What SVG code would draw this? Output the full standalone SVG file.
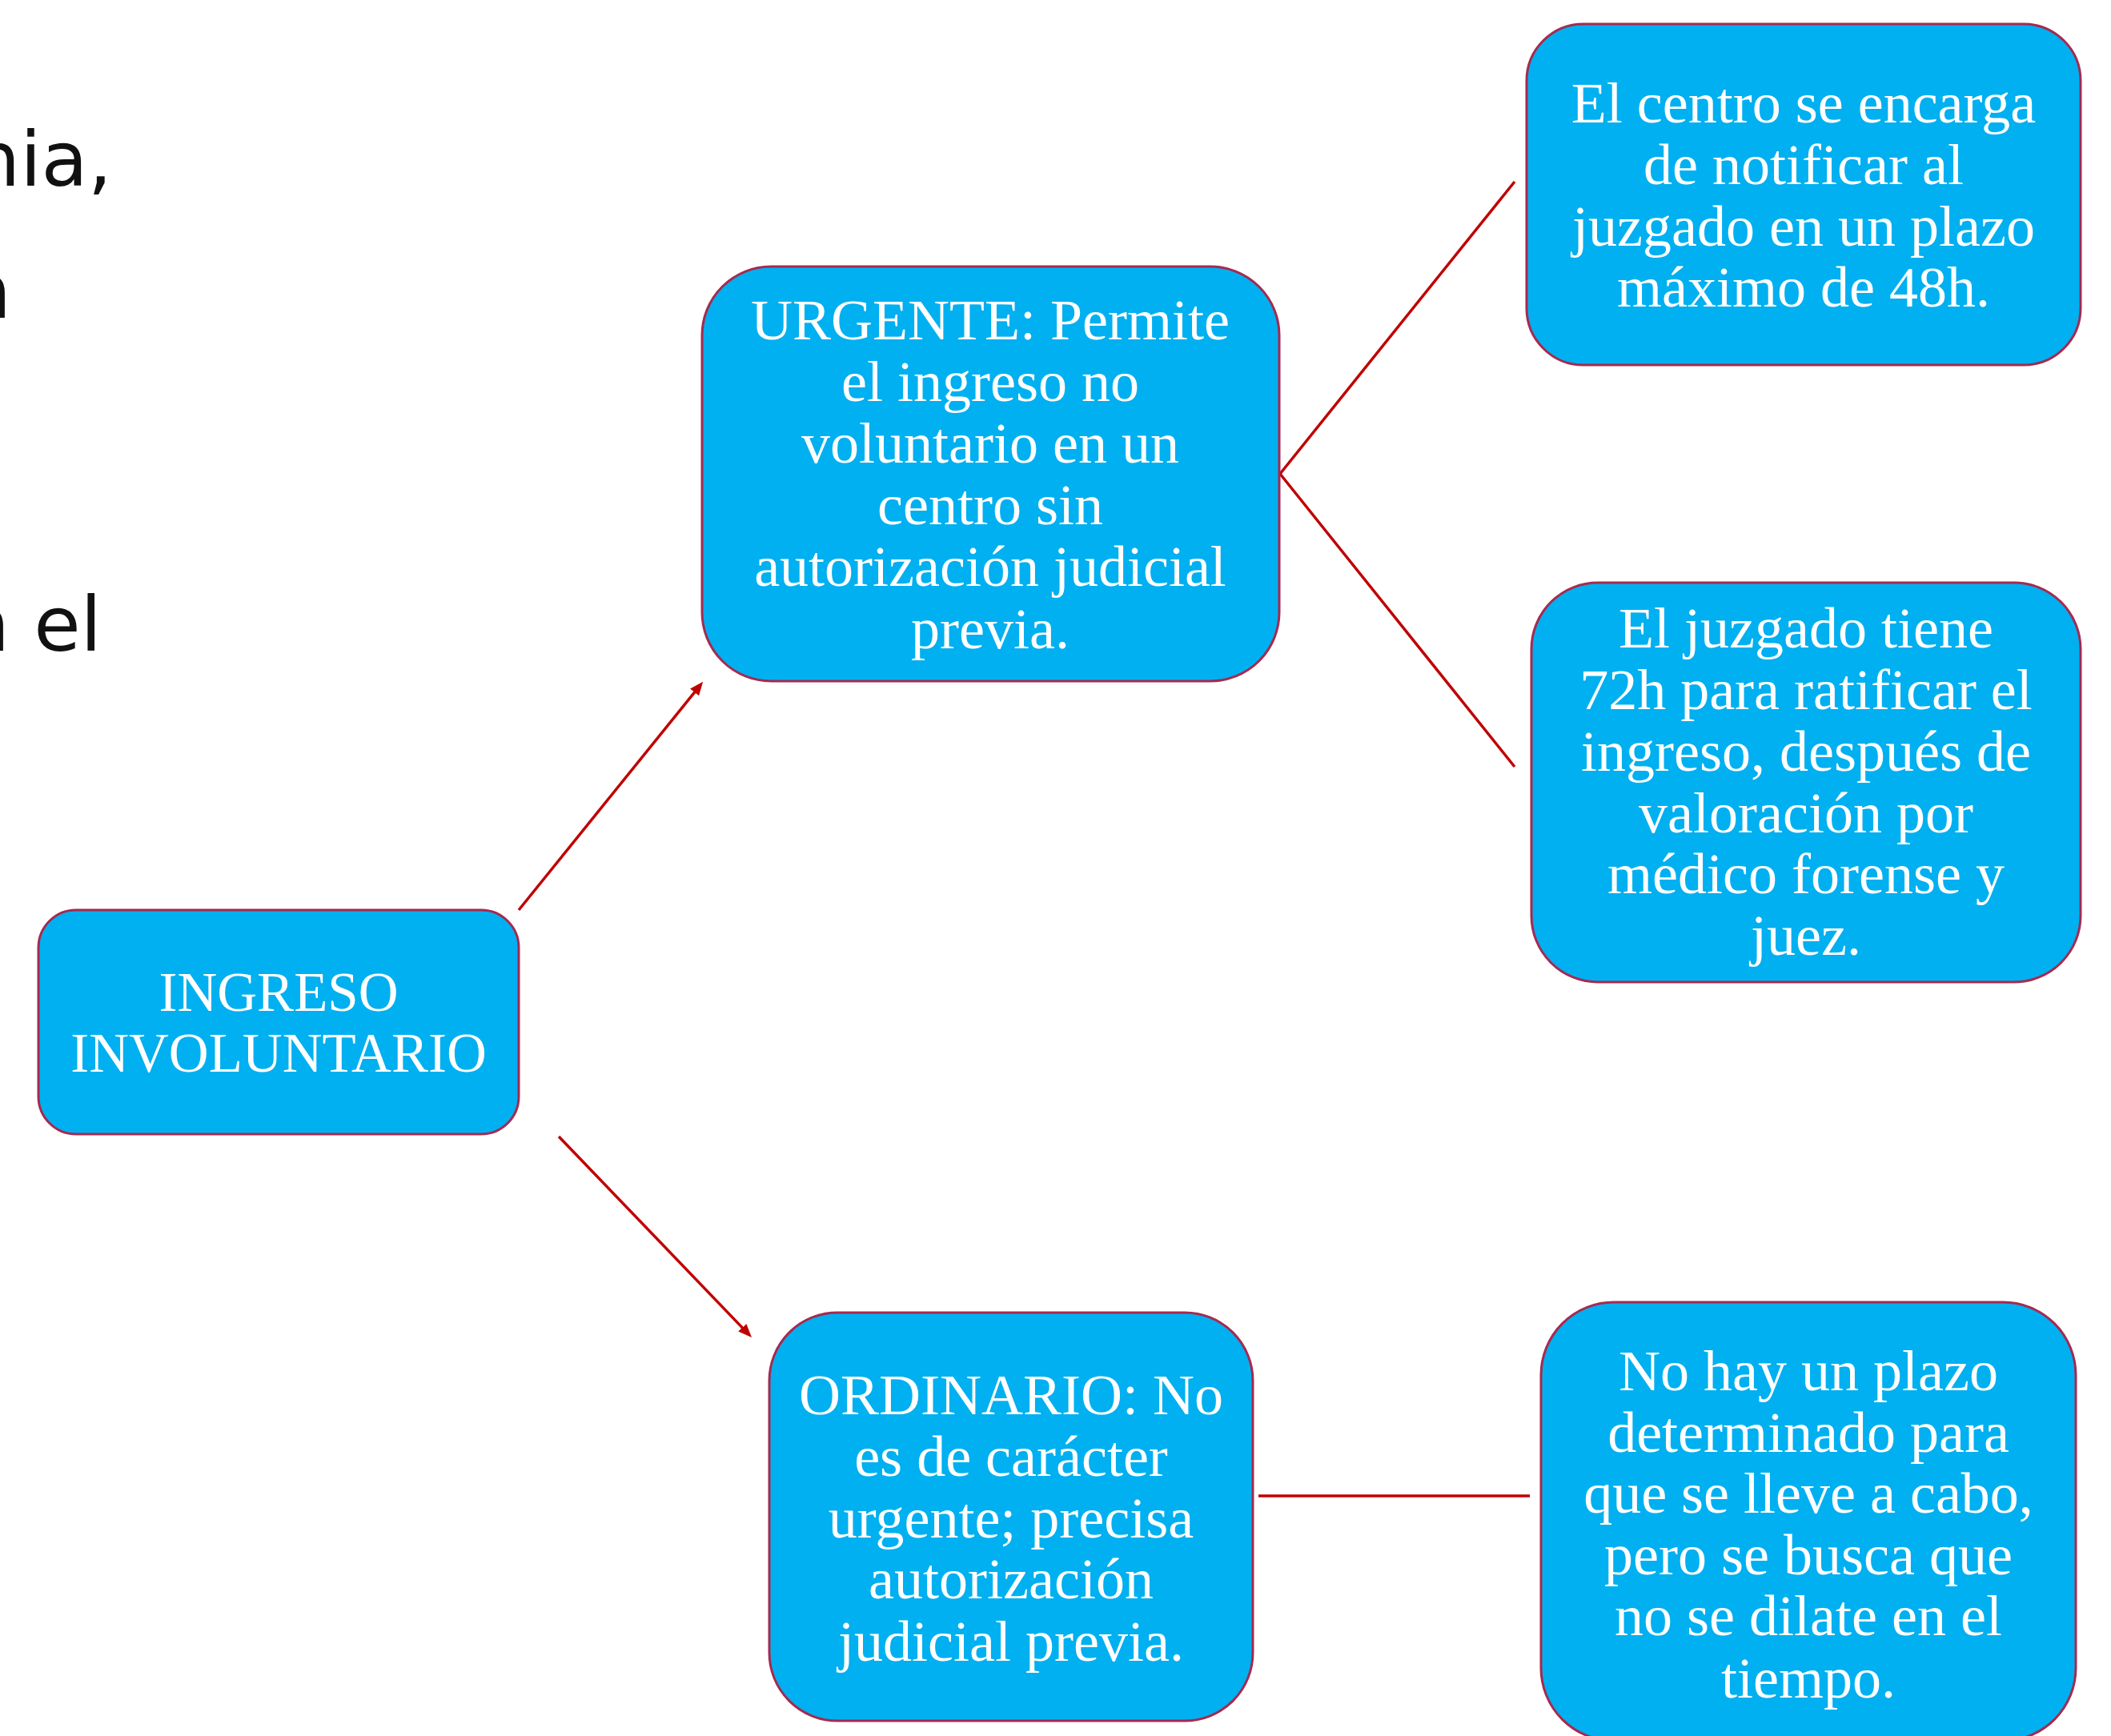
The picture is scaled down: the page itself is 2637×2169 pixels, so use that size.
<svg xmlns="http://www.w3.org/2000/svg" width="2637" height="2169" viewBox="0 0 2637 2169">
  <style>
    .box { fill: #00B0F0; stroke: #A52A4F; stroke-width: 3; }
    .lbl { font-family: "Liberation Serif", "Times New Roman", serif; font-size: 72px; fill: #FFFFFF; text-anchor: middle; }
    .side { font-family: "DejaVu Sans", "Liberation Sans", sans-serif; font-size: 95px; fill: #111111; text-anchor: end; }
    .conn { stroke: #C00000; stroke-width: 3.5; fill: none; }
  </style>
  <defs>
    <marker id="arrow" markerUnits="userSpaceOnUse" markerWidth="17" markerHeight="14" viewBox="0 0 17 14" refX="6" refY="7" orient="auto">
      <path d="M0,0 L17,7 L0,14 Z" fill="#C00000"/>
    </marker>
  </defs>
  <rect width="2637" height="2169" fill="#FFFFFF"/>

  <g id="side-text">
    <text class="side" x="140" y="232">nia,</text>
    <text class="side" x="14" y="397">n</text>
    <text class="side" x="127" y="813">n el</text>
  </g>

  <g id="connectors">
    <line class="conn" x1="648" y1="1137" x2="871.3" y2="860.3" marker-end="url(#arrow)"/>
    <line class="conn" x1="698" y1="1420" x2="931.4" y2="1663.1" marker-end="url(#arrow)"/>
    <line class="conn" x1="1599" y1="592" x2="1892" y2="227"/>
    <line class="conn" x1="1599" y1="592" x2="1892" y2="958"/>
    <line class="conn" x1="1572" y1="1869" x2="1911" y2="1869"/>
  </g>

  <g id="ingreso">
    <rect class="box" x="48" y="1137" width="600" height="280" rx="47" ry="47"/>
    <text class="lbl" style="font-size:69px" x="348" y="1263">INGRESO</text>
    <text class="lbl" style="font-size:69px" x="348" y="1339">INVOLUNTARIO</text>
  </g>

  <g id="urgente">
    <rect class="box" x="877" y="333" width="721" height="518" rx="86" ry="86"/>
    <text class="lbl" x="1237" y="424">URGENTE: Permite</text>
    <text class="lbl" x="1237" y="501">el ingreso no</text>
    <text class="lbl" x="1237" y="578">voluntario en un</text>
    <text class="lbl" x="1237" y="655">centro sin</text>
    <text class="lbl" x="1237" y="732">autorización judicial</text>
    <text class="lbl" x="1237" y="810">previa.</text>
  </g>

  <g id="notificar">
    <rect class="box" x="1907" y="30" width="692" height="426" rx="71" ry="71"/>
    <text class="lbl" x="2253" y="153">El centro se encarga</text>
    <text class="lbl" x="2253" y="230">de notificar al</text>
    <text class="lbl" x="2253" y="307">juzgado en un plazo</text>
    <text class="lbl" x="2253" y="383">máximo de 48h.</text>
  </g>

  <g id="ratificar">
    <rect class="box" x="1913" y="728" width="686" height="499" rx="83" ry="83"/>
    <text class="lbl" x="2256" y="809">El juzgado tiene</text>
    <text class="lbl" x="2256" y="886">72h para ratificar el</text>
    <text class="lbl" x="2256" y="963">ingreso, después de</text>
    <text class="lbl" x="2256" y="1040">valoración por</text>
    <text class="lbl" x="2256" y="1116">médico forense y</text>
    <text class="lbl" x="2256" y="1193">juez.</text>
  </g>

  <g id="ordinario">
    <rect class="box" x="961" y="1640" width="604" height="510" rx="85" ry="85"/>
    <text class="lbl" x="1263" y="1767">ORDINARIO: No</text>
    <text class="lbl" x="1263" y="1844">es de carácter</text>
    <text class="lbl" x="1263" y="1921">urgente; precisa</text>
    <text class="lbl" x="1263" y="1997">autorización</text>
    <text class="lbl" x="1263" y="2075">judicial previa.</text>
  </g>

  <g id="plazo">
    <rect class="box" x="1925" y="1627" width="668" height="548" rx="91" ry="91"/>
    <text class="lbl" x="2259" y="1737">No hay un plazo</text>
    <text class="lbl" x="2259" y="1814">determinado para</text>
    <text class="lbl" x="2259" y="1890">que se lleve a cabo,</text>
    <text class="lbl" x="2259" y="1967">pero se busca que</text>
    <text class="lbl" x="2259" y="2043">no se dilate en el</text>
    <text class="lbl" x="2259" y="2121">tiempo.</text>
  </g>
</svg>
